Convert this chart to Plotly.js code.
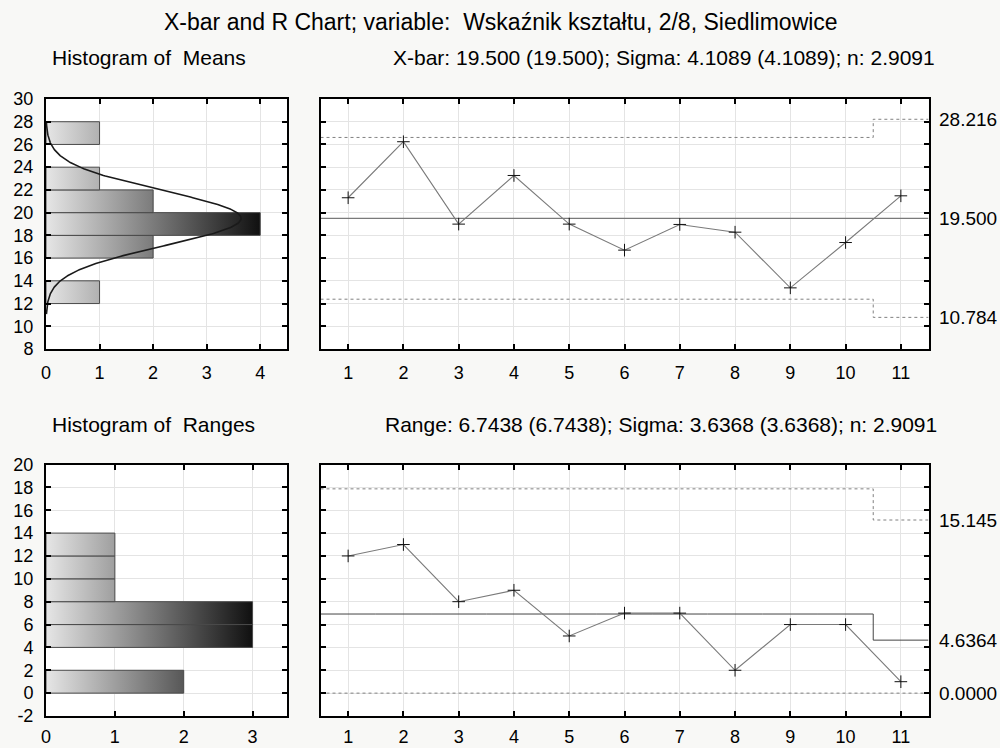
<!DOCTYPE html>
<html><head><meta charset="utf-8">
<script src="https://cdn.plot.ly/plotly-3.0.1.min.js"></script>
<style>html,body{margin:0;padding:0;background:#f8f8f6;} #chart{width:1000px;height:748px;}</style>
</head><body><div id="chart"></div>
<script>
// ---- data ----
const samples = [1,2,3,4,5,6,7,8,9,10,11];
const means   = [21.31,26.24,18.99,23.27,18.99,16.70,18.96,18.28,13.38,17.37,21.48];
const ranges  = [12,13,8,9,5,7,7,2,6,6,1];
const meansUCL = [26.617,26.617,26.617,26.617,26.617,26.617,26.617,26.617,26.617,26.617,28.216];
const meansCL  = [19.5,19.5,19.5,19.5,19.5,19.5,19.5,19.5,19.5,19.5,19.5];
const meansLCL = [12.383,12.383,12.383,12.383,12.383,12.383,12.383,12.383,12.383,12.383,10.784];
const rangesUCL = [17.87,17.87,17.87,17.87,17.87,17.87,17.87,17.87,17.87,17.87,15.145];
const rangesCL  = [6.92,6.92,6.92,6.92,6.92,6.92,6.92,6.92,6.92,6.92,4.6364];
const rangesLCL = [0,0,0,0,0,0,0,0,0,0,0];
const meansBinStart = [12,16,18,20,22,26];
const meansBinCount = [1,2,4,2,1,1];
const rangesBinStart = [0,4,6,8,10,12];
const rangesBinCount = [2,3,3,1,1,1];
const binWidth = 2;
const grandMean = 19.5, sigma = 4.1089, nAvg = 2.9091;
const titleText = 'X-bar and R Chart; variable:  Wskaźnik kształtu, 2/8, Siedlimowice';
const meansInfo = 'X-bar: 19.500 (19.500); Sigma: 4.1089 (4.1089); n: 2.9091';
const rangesInfo = 'Range: 6.7438 (6.7438); Sigma: 3.6368 (3.6368); n: 2.9091';

const FONT = 'Liberation Sans, Arial, sans-serif';
const traces = [];

function histTraces(starts, counts, xa, ya) {
  const maxC = Math.max(...counts);
  starts.forEach((s, i) => {
    const c = counts[i];
    traces.push({
      type: 'scatter', mode: 'lines', xaxis: xa, yaxis: ya,
      x: [0, c, c, 0, 0], y: [s, s, s + binWidth, s + binWidth, s],
      fill: 'toself',
      fillgradient: {type: 'horizontal', start: 0, stop: maxC,
        colorscale: [[0, '#e6e6e6'], [1, '#101010']]},
      line: {color: '#4a4a4a', width: 1}, hoverinfo: 'skip', showlegend: false
    });
  });
}
histTraces(meansBinStart, meansBinCount, 'x', 'y');
histTraces(rangesBinStart, rangesBinCount, 'x3', 'y3');

// fitted normal curve over the means histogram
(function () {
  const total = meansBinCount.reduce((a, b) => a + b, 0);
  const sm = sigma / Math.sqrt(nAvg);
  const xs = [], ys = [];
  for (let v = grandMean - 3.5 * sm; v <= grandMean + 3.5 * sm + 1e-9; v += 0.05) {
    ys.push(v);
    xs.push(total * binWidth * Math.exp(-0.5 * Math.pow((v - grandMean) / sm, 2)) / (sm * Math.sqrt(2 * Math.PI)));
  }
  traces.push({type: 'scatter', mode: 'lines', x: xs, y: ys, xaxis: 'x', yaxis: 'y',
    line: {color: '#1a1a1a', width: 1.6}, hoverinfo: 'skip', showlegend: false});
})();

function stepTrace(vals, xa, ya, color, dash, width) {
  const x = [], y = [];
  samples.forEach((s, i) => { x.push(s - 0.5); y.push(vals[i]); });
  x.push(samples[samples.length - 1] + 0.5); y.push(vals[vals.length - 1]);
  traces.push({type: 'scatter', mode: 'lines', x, y, xaxis: xa, yaxis: ya,
    line: {color, dash, width, shape: 'hv'}, hoverinfo: 'skip', showlegend: false});
}
stepTrace(meansUCL, 'x2', 'y2', '#808080', 'dot', 1);
stepTrace(meansLCL, 'x2', 'y2', '#808080', 'dot', 1);
stepTrace(meansCL, 'x2', 'y2', '#7a7a7a', 'solid', 1.2);
stepTrace(rangesUCL, 'x4', 'y4', '#808080', 'dot', 1);
stepTrace(rangesLCL, 'x4', 'y4', '#808080', 'dot', 1);
stepTrace(rangesCL, 'x4', 'y4', '#444444', 'solid', 1);

function seriesTrace(vals, xa, ya) {
  traces.push({type: 'scatter', mode: 'lines+markers', x: samples, y: vals, xaxis: xa, yaxis: ya,
    line: {color: '#7a7a7a', width: 1.1},
    marker: {symbol: 'cross-thin', size: 9, line: {color: '#111', width: 1}},
    showlegend: false});
}
seriesTrace(means, 'x2', 'y2');
seriesTrace(ranges, 'x4', 'y4');

const base = {showline: true, linecolor: '#000', linewidth: 2, mirror: 'allticks',
  ticks: 'inside', ticklen: 5, tickwidth: 2, tickcolor: '#000',
  showgrid: true, gridcolor: '#e4e4e4', gridwidth: 1, zeroline: false, fixedrange: true};
const xfont = {size: 18, color: '#000', family: FONT};
const yfont = {size: 18, color: '#000', family: FONT};

const topDom = [1 - 349 / 748, 1 - 99 / 748];
const botDom = [1 - 716 / 748, 1 - 464.5 / 748];
const leftDom = [0.046, 0.287];
const rightDom = [0.3205, 0.9285];
const evens = (a, b) => { const r = []; for (let v = a; v <= b; v += 2) r.push(v); return r; };

const fmt = v => v.toPrecision(5);
const last = a => a[a.length - 1];
const rightLabels = [
  [last(meansUCL), 'y2'], [grandMean, 'y2'], [last(meansLCL), 'y2'],
  [last(rangesUCL), 'y4'], [last(rangesCL), 'y4'], [last(rangesLCL), 'y4']
];

const sub = {size: 21, family: FONT, color: '#000'};
const annotations = [
  {text: titleText, x: 0.501, y: 1 - 22 / 748, xref: 'paper', yref: 'paper', xanchor: 'center', yanchor: 'middle', showarrow: false, font: {size: 23, family: FONT, color: '#000'}},
  {text: 'Histogram of  Means', x: 0.05, y: 1 - 58 / 748, xref: 'paper', yref: 'paper', xanchor: 'left', yanchor: 'middle', showarrow: false, font: sub},
  {text: meansInfo, x: 0.391, y: 1 - 58 / 748, xref: 'paper', yref: 'paper', xanchor: 'left', yanchor: 'middle', showarrow: false, font: sub},
  {text: 'Histogram of  Ranges', x: 0.05, y: 1 - 424 / 748, xref: 'paper', yref: 'paper', xanchor: 'left', yanchor: 'middle', showarrow: false, font: sub},
  {text: rangesInfo, x: 0.383, y: 1 - 424 / 748, xref: 'paper', yref: 'paper', xanchor: 'left', yanchor: 'middle', showarrow: false, font: sub}
];
rightLabels.forEach(([v, yr]) => annotations.push({text: fmt(v), x: 0.937, y: v, xref: 'paper', yref: yr,
  xanchor: 'left', yanchor: 'middle', showarrow: false, font: {size: 19, family: FONT, color: '#000'}}));

const layout = {
  width: 1000, height: 748, margin: {l: 0, r: 0, t: 0, b: 0},
  paper_bgcolor: '#f8f8f6', plot_bgcolor: '#ffffff',
  font: {family: FONT, color: '#000'}, showlegend: false,
  xaxis:  Object.assign({}, base, {domain: leftDom, range: [0, 4.5], tickmode: 'linear', tick0: 0, dtick: 1, anchor: 'y', tickfont: xfont, ticklabelstandoff: 6}),
  yaxis:  Object.assign({}, base, {domain: topDom, range: [8, 30], tickmode: 'linear', tick0: 8, dtick: 2, anchor: 'x', tickfont: yfont, ticklabelstandoff: 7}),
  xaxis2: Object.assign({}, base, {domain: rightDom, range: [0.5, 11.5], tickmode: 'array', tickvals: samples, anchor: 'y2', tickfont: xfont, ticklabelstandoff: 6}),
  yaxis2: Object.assign({}, base, {domain: topDom, range: [8, 30], tickmode: 'linear', tick0: 8, dtick: 2, anchor: 'x2', showticklabels: false}),
  xaxis3: Object.assign({}, base, {domain: leftDom, range: [0, 3.5], tickmode: 'linear', tick0: 0, dtick: 1, anchor: 'y3', tickfont: xfont, ticklabelstandoff: 3}),
  yaxis3: Object.assign({}, base, {domain: botDom, range: [-2, 20], tickmode: 'array', tickvals: evens(-2, 20), ticktext: evens(-2, 20).map(String), anchor: 'x3', tickfont: yfont, ticklabelstandoff: 7}),
  xaxis4: Object.assign({}, base, {domain: rightDom, range: [0.5, 11.5], tickmode: 'array', tickvals: samples, anchor: 'y4', tickfont: xfont, ticklabelstandoff: 3}),
  yaxis4: Object.assign({}, base, {domain: botDom, range: [-2, 20], tickmode: 'linear', tick0: -2, dtick: 2, anchor: 'x4', showticklabels: false}),
  annotations
};

Plotly.newPlot('chart', traces, layout, {staticPlot: true, displayModeBar: false});
</script>
</body></html>
